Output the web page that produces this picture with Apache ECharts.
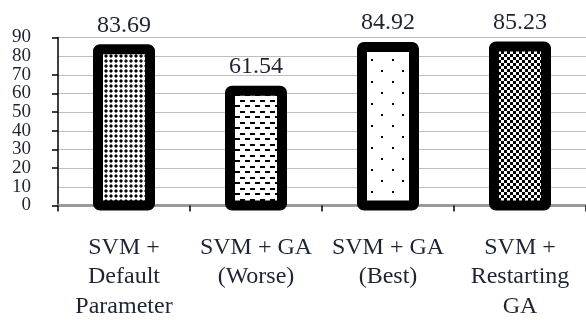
<!DOCTYPE html>
<html>
<head>
<meta charset="utf-8">
<script src="https://cdn.jsdelivr.net/npm/echarts@6/dist/echarts.min.js"></script>
<style>
html,body{margin:0;padding:0;background:#fff;}
#c{width:586px;height:321px;}
</style>
</head>
<body>
<div id="c"></div>
<script>
var categories = ['SVM +\nDefault\nParameter', 'SVM + GA\n(Worse)', 'SVM + GA\n(Best)', 'SVM +\nRestarting\nGA'];
var accuracy = [83.69, 61.54, 84.92, 85.23];
var yTicks = { min: 0, max: 90, interval: 10 };

function makePattern(w, h, draw) {
  var cv = document.createElement('canvas');
  cv.width = w; cv.height = h;
  var ctx = cv.getContext('2d');
  ctx.fillStyle = '#fff';
  ctx.fillRect(0, 0, w, h);
  draw(ctx);
  return { image: cv, repeat: 'repeat' };
}
// bar 1: crosshatch of white crosses on dark dots
var p1 = makePattern(5, 5, function (ctx) {
  ctx.fillStyle = '#000';
  ctx.fillRect(0, 0, 2, 2);
  ctx.fillStyle = '#7a7a7a';
  ctx.fillRect(2, 0, 1, 2);
  ctx.fillRect(0, 2, 2, 1);
  ctx.fillRect(4, 0, 1, 2);
  ctx.fillRect(0, 4, 2, 1);
});
// bar 2: horizontal dashes
var p2 = makePattern(10, 11, function (ctx) {
  ctx.fillStyle = '#000';
  ctx.fillRect(0, 1, 5, 2);
  ctx.fillRect(5, 6, 5, 2);
});
// bar 3: sparse dots
var p3 = makePattern(21, 22, function (ctx) {
  ctx.fillStyle = '#000';
  ctx.fillRect(3, 4, 2, 2);
  ctx.fillRect(14, 15, 2, 2);
});
// bar 4: checkerboard
var p4 = makePattern(6, 6, function (ctx) {
  ctx.fillStyle = '#000';
  ctx.fillRect(0, 0, 3, 3);
  ctx.fillRect(3, 3, 3, 3);
});
var patterns = [p1, p2, p3, p4];

var textColor = '#1e2433';
var font = '"Liberation Serif", "Times New Roman", serif';

var chart = echarts.init(document.getElementById('c'), null, { renderer: 'canvas' });
chart.setOption({
  animation: false,
  backgroundColor: '#fff',
  grid: { left: 58, right: -4, top: 37.5, bottom: 113, containLabel: false },
  xAxis: [{
    type: 'category',
    data: categories,
    position: 'bottom',
    axisLine: { show: true, lineStyle: { color: '#000', width: 1.5 } },
    axisTick: { show: true, length: 6, lineStyle: { color: '#000', width: 1.5 } },
    axisLabel: { color: textColor, fontFamily: font, fontSize: 24, lineHeight: 29.5, margin: 27, interval: 0 },
    splitLine: { show: false }
  }, {
    type: 'category',
    data: categories,
    position: 'top',
    axisLine: { show: true, lineStyle: { color: '#9a9a9a', width: 3 } },
    axisTick: { show: false },
    axisLabel: { show: false },
    splitLine: { show: false }
  }],
  yAxis: [{
    type: 'value',
    position: 'left',
    min: yTicks.min, max: yTicks.max, interval: yTicks.interval,
    axisLine: { show: true, lineStyle: { color: '#000', width: 1.5 } },
    axisTick: { show: true, length: 6, lineStyle: { color: '#000', width: 1.5 } },
    axisLabel: { color: textColor, fontFamily: font, fontSize: 19, margin: 27, showMinLabel: true, showMaxLabel: true },
    splitLine: { show: true, lineStyle: { color: '#bdbdbd', width: 1 } }
  }, {
    type: 'value',
    position: 'left',
    offset: 0,
    min: yTicks.min, max: yTicks.max, interval: yTicks.interval,
    axisLine: { show: false },
    axisTick: { show: false },
    axisLabel: {
      color: textColor, fontFamily: font, fontSize: 19, margin: 27,
      showMinLabel: false, showMaxLabel: false,
      formatter: function (v) { return (v === yTicks.min + yTicks.interval || v === yTicks.max - yTicks.interval) ? String(v) : ''; }
    },
    splitLine: { show: false }
  }],
  series: [{
    type: 'custom',
    xAxisIndex: 0,
    yAxisIndex: 0,
    data: accuracy.map(function (v, i) { return [i, v]; }),
    renderItem: function (params, api) {
      var idx = params.dataIndex;
      var x = api.value(0), v = api.value(1);
      var top = api.coord([x, v]);
      var base = api.coord([x, 0]);
      var w = 52;
      return {
        type: 'group',
        children: [{
          type: 'rect',
          shape: { x: top[0] - w / 2, y: top[1], width: w, height: base[1] - top[1], r: 2 },
          style: { fill: patterns[idx], stroke: '#000', lineWidth: 10 }
        }, {
          type: 'text',
          style: {
            text: v.toFixed(2), x: top[0], y: top[1] - 12,
            align: 'center', verticalAlign: 'bottom',
            fontSize: 24, fontFamily: font, fill: textColor
          }
        }]
      };
    }
  }]
});
</script>
</body>
</html>
